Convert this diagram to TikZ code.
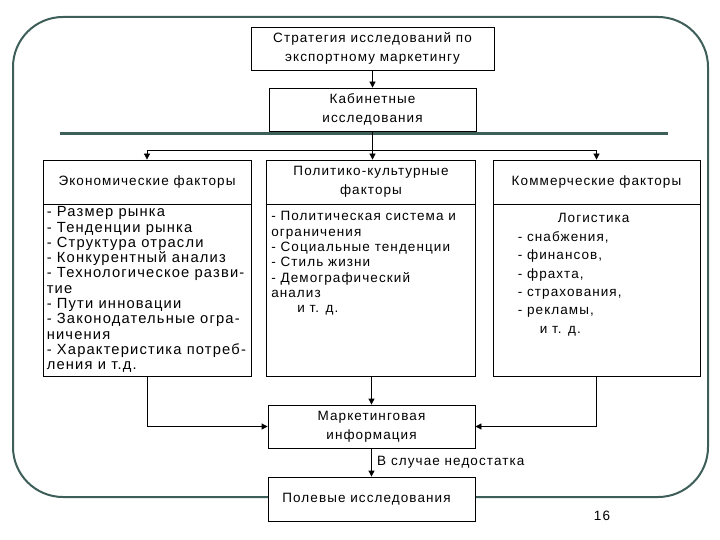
\documentclass[tikz,border=0pt]{standalone}
\usepackage{fontspec}
\setmainfont{Liberation Sans}[LetterSpace=8]
\usetikzlibrary{arrows.meta,positioning}

\definecolor{framegreen}{HTML}{3E5E59}

\begin{document}
\begin{tikzpicture}[x=1pt,y=-1pt]

    \tikzset{
      box/.style={
        draw,
        line width=0.8pt,
        fill=white,
        inner sep=2pt,
        align=center,
        font=\fontsize{13.5}{18.8}\selectfont,
      },
      bodytext/.style={
        inner sep=0pt,
        align=left,
        font=\fontsize{13.5}{15.3}\selectfont,
      },
      link/.style={
        line width=0.8pt,
        -{Triangle[length=6pt,width=6pt]},
      },
    }
    \useasboundingbox (0,0) rectangle (720,540);
    % frame
    \draw[framegreen, line width=2pt, rounded corners=50pt] (13,17) rectangle (708,497);
    \draw[framegreen, line width=3pt] (60,134) -- (668,134);

    % top
    \node[box, minimum width=243pt, minimum height=43pt] (strat) at (372.5,48.5)
      {Стратегия исследований по\\экспортному маркетингу};
    \node[box, minimum width=207pt, minimum height=43pt] (cab) at (372.5,109.5)
      {Кабинетные\\исследования};

    % factors
    \node[box, minimum width=208pt, minimum height=44pt] (econhead) at (147,182) {Экономические факторы};
    \node[box, minimum width=208pt, minimum height=172pt, below=0pt of econhead] (econbody) {};
    \node[box, minimum width=209pt, minimum height=44pt] (polhead) at (371,182) {Политико-культурные\\факторы};
    \node[box, minimum width=209pt, minimum height=172pt, below=0pt of polhead] (polbody) {};
    \node[box, minimum width=207pt, minimum height=44pt] (comhead) at (596.5,182) {Коммерческие факторы};
    \node[box, minimum width=207pt, minimum height=172pt, below=0pt of comhead] (combody) {};

    \node[bodytext, anchor=north west, font=\fontsize{14.7}{15.3}\selectfont] (econtext)
      at ([xshift=4pt,yshift=-2pt]econbody.north west)
      {- Размер рынка\\- Тенденции рынка\\- Структура отрасли\\- Конкурентный анализ\\
       - Технологическое разви-\\тие\\- Пути инновации\\- Законодательные огра-\\ничения\\
       - Характеристика потреб-\\ления и т.д.};
    \node[bodytext, anchor=north west] (poltext) at ([xshift=5pt,yshift=-7pt]polbody.north west)
      {- Политическая система и\\ограничения\\- Социальные тенденции\\- Стиль жизни\\
       - Демографический\\анализ\\\hspace*{26pt}и т. д.};
    \node[bodytext, anchor=north west, font=\fontsize{13.5}{18.4}\selectfont] (comtext)
      at ([xshift=25pt,yshift=-9pt]combody.north west)
      {\hspace*{40pt}Логистика\\- снабжения,\\- финансов,\\- фрахта,\\- страхования,\\- рекламы,\\
       \hspace*{22pt}и т. д.};

    % bottom
    \node[box, minimum width=207pt, minimum height=43pt] (info) at (371.5,426.5)
      {Маркетинговая\\информация};
    \node[box, minimum width=207pt, minimum height=44pt] (field) at (371.5,499)
      {Полевые исследования\hspace*{10pt}};
    \node[anchor=center, font=\fontsize{13.5}{15}\selectfont] (pagenum) at (602,516) {16};

    % connectors
    \coordinate (split) at (cab.south |- 0,150);
    \draw[link] (strat) -- (cab);
    \draw[line width=0.8pt] (cab) -- (split);
    \draw[link] (split) -| (econhead.north);
    \draw[link] (split) -- (polhead.north -| split);
    \draw[link] (split) -| (comhead.north);
    \draw[link] (econbody.south) |- (info.west);
    \draw[link] (combody.south) |- (info.east);
    \draw[link] (polbody.south -| info.north) -- (info.north);
    \draw[link] (info) -- node[right, xshift=2pt, font=\fontsize{13.5}{15}\selectfont] (lack) {В случае недостатка} (field);

\end{tikzpicture}
\end{document}
